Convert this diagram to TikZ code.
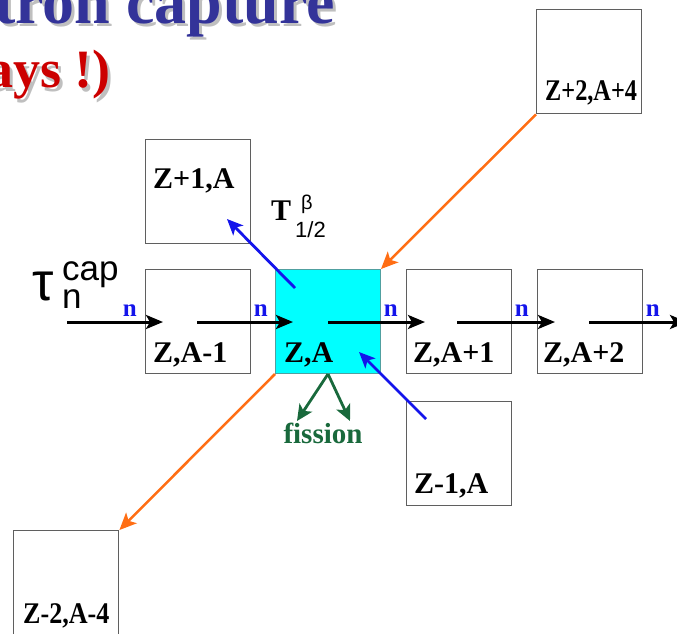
\documentclass[tikz,border=0pt]{standalone}
\usepackage{fontspec}
\setmainfont{Liberation Serif}
\newfontfamily\sansf{Liberation Sans}
\usetikzlibrary{arrows.meta,calc}
\definecolor{ttlblue}{RGB}{51,51,153}
\definecolor{ttlred}{RGB}{204,0,0}
\definecolor{cyanfill}{RGB}{0,255,255}
\definecolor{cyanedge}{RGB}{80,160,160}
\definecolor{arrblue}{RGB}{20,20,235}
\definecolor{arrorange}{RGB}{255,110,20}
\definecolor{arrgreen}{RGB}{25,105,60}
\definecolor{boxgray}{RGB}{95,95,95}
\begin{document}
\begin{tikzpicture}[x=1pt,y=-1pt,
  nuc/.style={draw=boxgray,line width=1.4pt,minimum width=105pt,minimum height=104pt,inner sep=0pt,anchor=north west},
  lbl/.style={font=\bfseries\fontsize{30}{30}\selectfont,inner sep=0pt,anchor=base west},
  nlbl/.style={text=arrblue,font=\bfseries\fontsize{25}{25}\selectfont,inner sep=0pt,anchor=base east},
  ncap/.style={line width=3pt,-{Stealth[length=17pt,width=14pt,inset=4pt]}},
  betaarr/.style={draw=arrblue,line width=2.8pt,-{Stealth[length=16pt,width=14pt,inset=4pt]}},
  alphaarr/.style={draw=arrorange,line width=2.5pt,-{Stealth[length=17pt,width=15pt,inset=4pt]}},
  fisarr/.style={draw=arrgreen,line width=2.8pt,-{Stealth[length=16pt,width=15pt,inset=4pt]}},
  ttlshadow/.style={text=black!25,inner sep=0pt}
]
\path[use as bounding box] (0,0) rectangle (677,634);
\clip (0,0) rectangle (677,634);

% title fragments
\node[ttlshadow,anchor=base east,font=\bfseries\fontsize{64}{64}\selectfont] at (338,27) {tron capture};
\node[text=ttlblue,inner sep=0pt,anchor=base east,font=\bfseries\fontsize{64}{64}\selectfont] (title1) at (335,24) {tron capture};
\node[ttlshadow,anchor=base east,font=\bfseries\fontsize{54}{54}\selectfont] at (114,91) {ays !)};
\node[text=ttlred,inner sep=0pt,anchor=base east,font=\bfseries\fontsize{54}{54}\selectfont] (title2) at (111,88) {ays !)};

% boxes
\node[nuc] (zam1) at (145,269) {};
\node[nuc,fill=cyanfill,draw=cyanedge,line width=1pt] (za) at (275,269) {};
\node[nuc] (zap1) at (406,269) {};
\node[nuc] (zap2) at (537,269) {};
\node[nuc] (zp1) at (145,139) {};
\node[nuc] (zp2) at (536,9) {};
\node[nuc] (zm1) at (406,401) {};
\node[nuc] (zm2) at (13,530) {};

% box labels
\node[lbl] (tzam1) at (153,362) {Z,A-1};
\node[lbl] (tza) at (284,362) {Z,A};
\node[lbl] (tzap1) at (413,362) {Z,A+1};
\node[lbl] (tzap2) at (543,362) {Z,A+2};
\node[lbl] (tzp1) at (153,188) {Z+1,A};
\node[lbl] (tzp2) at (545,100) {\scalebox{0.81}[1]{Z+2,A+4}};
\node[lbl] (tzm1) at (414,493) {Z-1,A};
\node[lbl] (tzm2) at (23,623) {\scalebox{0.87}[1]{Z-2,A-4}};

% neutron capture chain
\coordinate (c0s) at (67,322);  \coordinate (c0e) at (163,322);
\coordinate (c1s) at (197,322); \coordinate (c1e) at (293,322);
\coordinate (c2s) at (328,322); \coordinate (c2e) at (425,322);
\coordinate (c3s) at (457,322); \coordinate (c3e) at (555,322);
\coordinate (c4s) at (589,322); \coordinate (c4e) at (687,322);
\draw[ncap] (c0s) -- (c0e);
\draw[ncap] (c1s) -- (c1e);
\draw[ncap] (c2s) -- (c2e);
\draw[ncap] (c3s) -- (c3e);
\draw[ncap] (c4s) -- (c4e);
\node[nlbl] (n0) at (137,316) {n};
\node[nlbl] (n1) at (268,316) {n};
\node[nlbl] (n2) at (398,316) {n};
\node[nlbl] (n3) at (529,316) {n};
\node[nlbl] (n4) at (660,316) {n};

% beta decays
\coordinate (b1s) at (295,288); \coordinate (b1e) at (227,219);
\coordinate (b2s) at (426,419); \coordinate (b2e) at (359,352);
\draw[betaarr] (b1s) -- (b1e);
\draw[betaarr] (b2s) -- (b2e);

% diagonal arrows
\draw[alphaarr] (zp2.south west) -- (za.north east);
\draw[alphaarr] (za.south west) -- (zm2.north east);

% fission
\coordinate (f1) at (297,421); \coordinate (f2) at (350,421);
\draw[fisarr] (za.south) -- (f1);
\draw[fisarr] (za.south) -- (f2);
\node[text=arrgreen,inner sep=0pt,anchor=base,font=\bfseries\fontsize{29}{29}\selectfont] (fis) at (323,443) {fission};

% tau_n^cap
\node[inner sep=0pt,anchor=base west,font=\sansf\fontsize{54}{54}\selectfont] (tau) at (32,300) {τ};
\node[inner sep=0pt,anchor=base west,font=\sansf\fontsize{35}{35}\selectfont] (taucap) at (62,280) {cap};
\node[inner sep=0pt,anchor=base west,font=\sansf\fontsize{35}{35}\selectfont] (taun) at (62,308) {n};

% T^beta_1/2
\node[inner sep=0pt,anchor=base west,font=\bfseries\fontsize{30}{30}\selectfont] (thalf) at (271,220) {T};
\node[inner sep=0pt,anchor=base west,font=\sansf\fontsize{20}{20}\selectfont] (tbeta) at (301,209) {β};
\node[inner sep=0pt,anchor=base west,font=\sansf\fontsize{22}{22}\selectfont] (tsub) at (295,237) {1/2};
\end{tikzpicture}
\end{document}
